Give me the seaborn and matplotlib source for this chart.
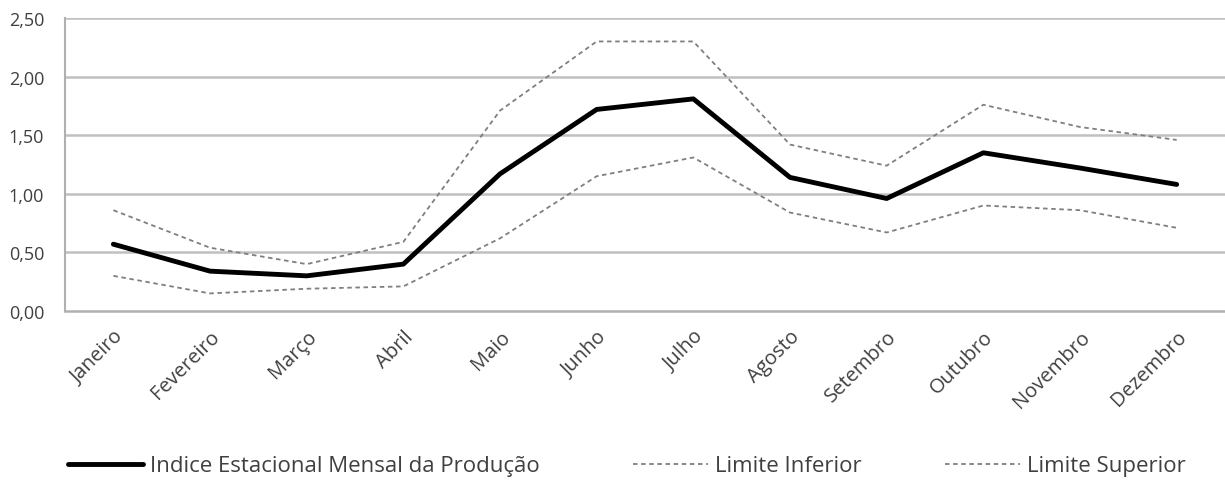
import matplotlib
matplotlib.use("Agg")
import matplotlib.pyplot as plt
import seaborn as sns
import pandas as pd
import numpy as np
from matplotlib.lines import Line2D

months = ["Janeiro", "Fevereiro", "Março", "Abril", "Maio", "Junho", "Julho",
          "Agosto", "Setembro", "Outubro", "Novembro", "Dezembro"]
indice = [0.57, 0.34, 0.30, 0.40, 1.17, 1.72, 1.81, 1.14, 0.96, 1.35, 1.22, 1.08]
lim_inf = [0.30, 0.15, 0.19, 0.21, 0.62, 1.15, 1.31, 0.84, 0.67, 0.90, 0.86, 0.71]
lim_sup = [0.86, 0.54, 0.40, 0.59, 1.71, 2.30, 2.30, 1.42, 1.24, 1.76, 1.57, 1.46]
yticks = [0.0, 0.5, 1.0, 1.5, 2.0, 2.5]
labels = ["Indice Estacional Mensal da Produção", "Limite Inferior", "Limite Superior"]

sns.set_theme(style="white")
plt.rcParams['font.family'] = ['Open Sans', 'DejaVu Sans']
txt = "#404040"

fig = plt.figure(figsize=(12.25, 4.85), dpi=100)
ax = fig.add_axes([0.0531, 0.3567, 0.9469, 0.6041])

x = np.arange(len(months))
df = pd.DataFrame({"x": x, "indice": indice, "inf": lim_inf, "sup": lim_sup})

dash_col = "#7f7f7f"
dash = (0, (2.5, 2))
sns.lineplot(data=df, x="x", y="sup", ax=ax, color=dash_col, lw=1.3,
             linestyle=dash, legend=False)
sns.lineplot(data=df, x="x", y="inf", ax=ax, color=dash_col, lw=1.3,
             linestyle=dash, legend=False)
sns.lineplot(data=df, x="x", y="indice", ax=ax, color="black", lw=3.5,
             legend=False, solid_capstyle="round")

ax.set_xlim(-0.5, 11.5)
ax.set_ylim(0, 2.5)
ax.set_yticks(yticks)
ax.set_yticklabels([f"{v:.2f}".replace(".", ",") for v in yticks], color=txt, fontsize=13)
for v in yticks[1:]:
    ax.axhline(v, color="#c0c0c0", lw=1.8, zorder=0)
ax.set_xticks(x)
ax.set_xticklabels(months, rotation=45, ha="right", rotation_mode="anchor",
                   color=txt, fontsize=14.5)
ax.set_xticks(np.arange(-0.5, 12, 1), minor=True)
ax.tick_params(axis="x", which="major", length=0, pad=11)
ax.tick_params(axis="x", which="minor", length=6, width=1.2, color="#b0b0b0", direction="out")
ax.tick_params(axis="y", length=6, width=1.2, color="#b0b0b0", direction="out", pad=9)
ax.set_xlabel("")
ax.set_ylabel("")
for s in ["top", "right"]:
    ax.spines[s].set_visible(False)
ax.spines["left"].set_color("#b0b0b0")
ax.spines["left"].set_linewidth(1.5)
ax.spines["bottom"].set_color("#b0b0b0")
ax.spines["bottom"].set_linewidth(1.8)

handles = [Line2D([], [], color="black", lw=3.5),
           Line2D([], [], color=dash_col, lw=1.3, linestyle=dash),
           Line2D([], [], color=dash_col, lw=1.3, linestyle=dash)]
fs = 16
em = fs * 100 / 72
starts = [68, 633, 945]
for h, lab, sx in zip(handles, labels, starts):
    lg = fig.legend([h], [lab], loc="center left", bbox_to_anchor=(sx / 1225, 1 - 467 / 485),
                    frameon=False, fontsize=fs, handlelength=75 / em, handletextpad=7 / em,
                    borderpad=0, borderaxespad=0)
    for t in lg.get_texts():
        t.set_color(txt)

fig.savefig("out.png", dpi=100)
